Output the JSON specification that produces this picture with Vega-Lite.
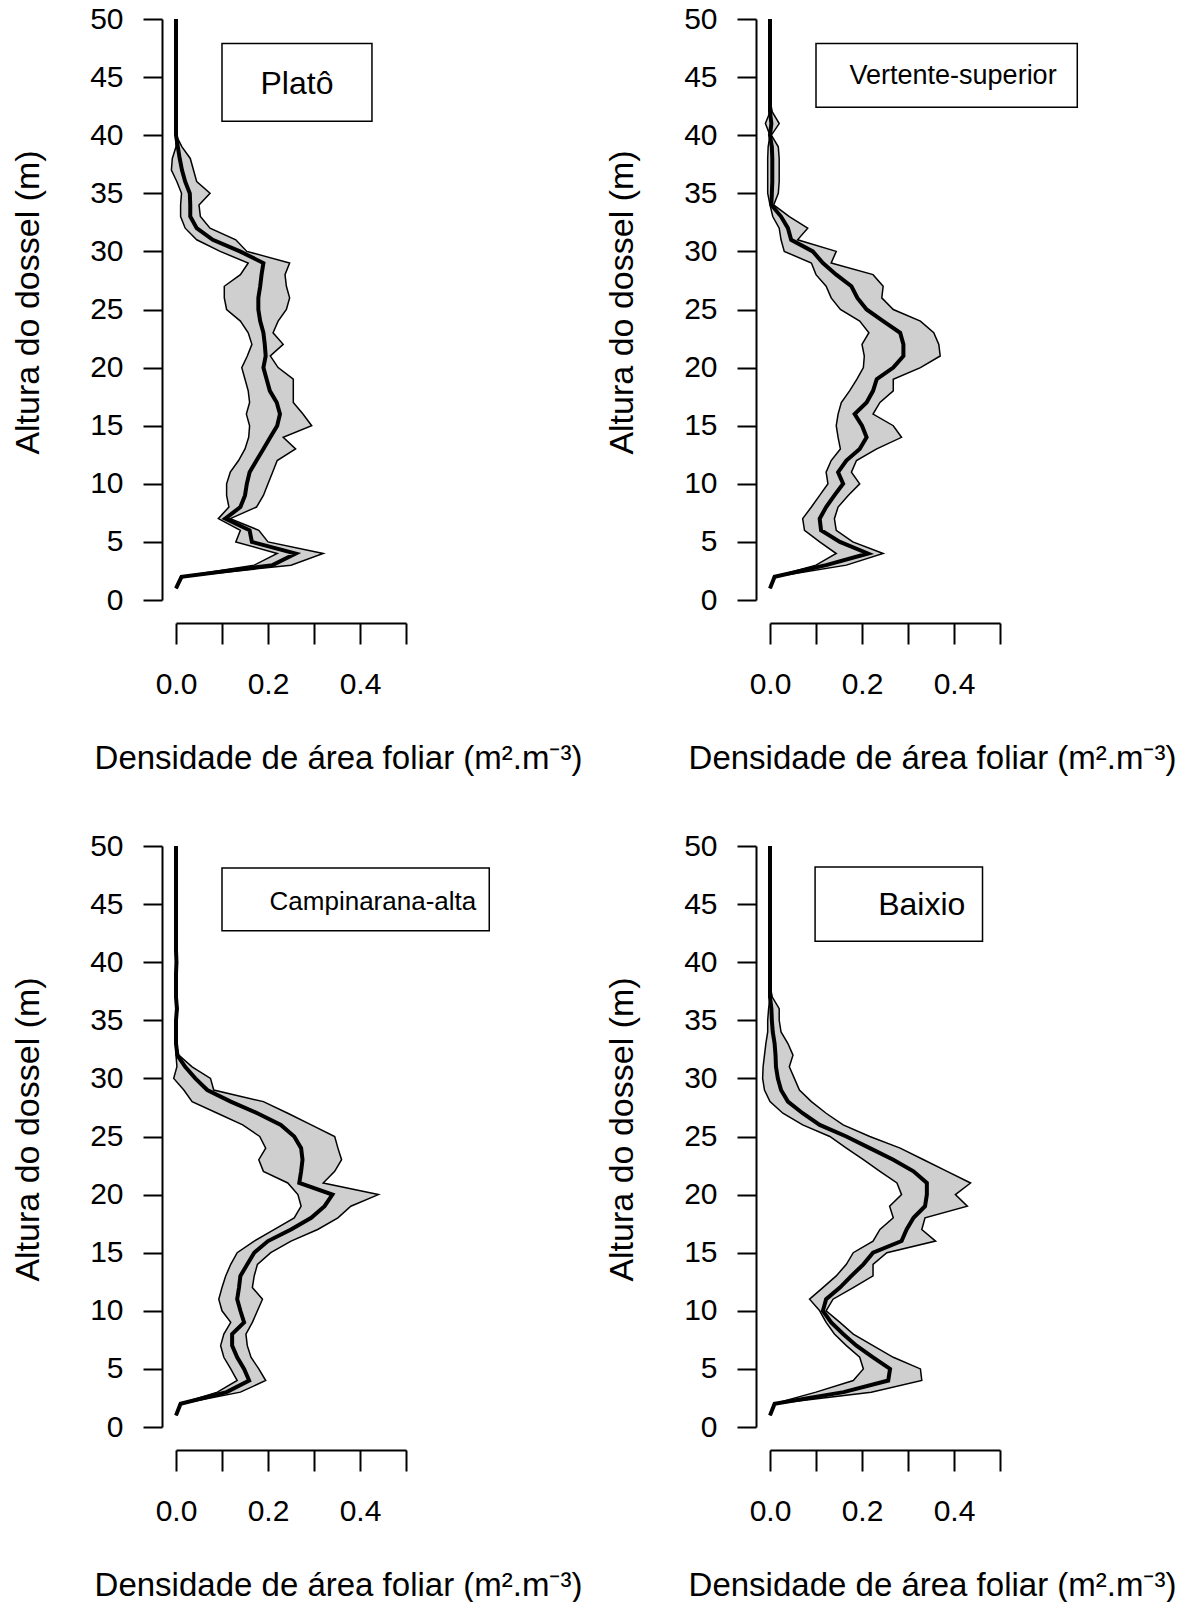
{
  "$schema": "https://vega.github.io/schema/vega-lite/v6.json",
  "background": "white",
  "padding": {"left": 11, "top": 4, "right": 5, "bottom": 0},
  "config": {
    "font": "Liberation Sans",
    "view": {"stroke": null},
    "axis": {
      "grid": false,
      "domainColor": "black",
      "domainWidth": 2,
      "tickColor": "black",
      "tickWidth": 2,
      "labelFont": "Liberation Sans",
      "labelFontSize": 30,
      "labelColor": "black",
      "titleFont": "Liberation Sans",
      "titleFontWeight": "normal",
      "titleColor": "black"
    },
    "axisX": {"tickSize": 21, "titleFontSize": 33},
    "axisY": {"tickSize": 19, "titleFontSize": 34}
  },
  "datasets": {
    "lad": [
      {"site":"Platô","h":1,"lo":0,"mean":0,"hi":0},
      {"site":"Platô","h":2,"lo":0.01,"mean":0.012,"hi":0.015},
      {"site":"Platô","h":3,"lo":0.17,"mean":0.21,"hi":0.25},
      {"site":"Platô","h":4,"lo":0.22,"mean":0.26,"hi":0.32},
      {"site":"Platô","h":5,"lo":0.13,"mean":0.165,"hi":0.2},
      {"site":"Platô","h":6,"lo":0.14,"mean":0.16,"hi":0.18},
      {"site":"Platô","h":7,"lo":0.092,"mean":0.107,"hi":0.118},
      {"site":"Platô","h":8,"lo":0.115,"mean":0.14,"hi":0.175},
      {"site":"Platô","h":9,"lo":0.11,"mean":0.15,"hi":0.19},
      {"site":"Platô","h":10,"lo":0.11,"mean":0.154,"hi":0.2},
      {"site":"Platô","h":11,"lo":0.118,"mean":0.16,"hi":0.21},
      {"site":"Platô","h":12,"lo":0.136,"mean":0.175,"hi":0.22},
      {"site":"Platô","h":13,"lo":0.15,"mean":0.19,"hi":0.26},
      {"site":"Platô","h":14,"lo":0.158,"mean":0.205,"hi":0.233},
      {"site":"Platô","h":15,"lo":0.16,"mean":0.22,"hi":0.295},
      {"site":"Platô","h":16,"lo":0.153,"mean":0.226,"hi":0.276},
      {"site":"Platô","h":17,"lo":0.16,"mean":0.219,"hi":0.255},
      {"site":"Platô","h":18,"lo":0.157,"mean":0.204,"hi":0.255},
      {"site":"Platô","h":19,"lo":0.15,"mean":0.197,"hi":0.255},
      {"site":"Platô","h":20,"lo":0.143,"mean":0.19,"hi":0.222},
      {"site":"Platô","h":21,"lo":0.155,"mean":0.195,"hi":0.205},
      {"site":"Platô","h":22,"lo":0.165,"mean":0.193,"hi":0.233},
      {"site":"Platô","h":23,"lo":0.157,"mean":0.19,"hi":0.211},
      {"site":"Platô","h":24,"lo":0.14,"mean":0.183,"hi":0.222},
      {"site":"Platô","h":25,"lo":0.11,"mean":0.179,"hi":0.24},
      {"site":"Platô","h":26,"lo":0.105,"mean":0.179,"hi":0.247},
      {"site":"Platô","h":27,"lo":0.105,"mean":0.183,"hi":0.24},
      {"site":"Platô","h":28,"lo":0.14,"mean":0.186,"hi":0.237},
      {"site":"Platô","h":29,"lo":0.157,"mean":0.19,"hi":0.247},
      {"site":"Platô","h":30,"lo":0.096,"mean":0.139,"hi":0.154},
      {"site":"Platô","h":31,"lo":0.045,"mean":0.08,"hi":0.13},
      {"site":"Platô","h":32,"lo":0.02,"mean":0.045,"hi":0.074},
      {"site":"Platô","h":33,"lo":0.01,"mean":0.031,"hi":0.053},
      {"site":"Platô","h":34,"lo":0.01,"mean":0.031,"hi":0.05},
      {"site":"Platô","h":35,"lo":0.012,"mean":0.03,"hi":0.074},
      {"site":"Platô","h":36,"lo":0.002,"mean":0.02,"hi":0.045},
      {"site":"Platô","h":37,"lo":-0.01,"mean":0.013,"hi":0.038},
      {"site":"Platô","h":38,"lo":-0.008,"mean":0.008,"hi":0.031},
      {"site":"Platô","h":39,"lo":0,"mean":0.004,"hi":0.013},
      {"site":"Platô","h":40,"lo":0,"mean":0,"hi":0},
      {"site":"Platô","h":41,"lo":0,"mean":0,"hi":0},
      {"site":"Platô","h":42,"lo":0,"mean":0,"hi":0},
      {"site":"Platô","h":43,"lo":0,"mean":0,"hi":0},
      {"site":"Platô","h":44,"lo":0,"mean":0,"hi":0},
      {"site":"Platô","h":45,"lo":0,"mean":0,"hi":0},
      {"site":"Platô","h":46,"lo":0,"mean":0,"hi":0},
      {"site":"Platô","h":47,"lo":0,"mean":0,"hi":0},
      {"site":"Platô","h":48,"lo":0,"mean":0,"hi":0},
      {"site":"Platô","h":49,"lo":0,"mean":0,"hi":0},
      {"site":"Platô","h":50,"lo":0,"mean":0,"hi":0},

      {"site":"Vertente-superior","h":1,"lo":0,"mean":0,"hi":0},
      {"site":"Vertente-superior","h":2,"lo":0.008,"mean":0.01,"hi":0.012},
      {"site":"Vertente-superior","h":3,"lo":0.1,"mean":0.122,"hi":0.166},
      {"site":"Vertente-superior","h":4,"lo":0.144,"mean":0.213,"hi":0.246},
      {"site":"Vertente-superior","h":5,"lo":0.108,"mean":0.152,"hi":0.18},
      {"site":"Vertente-superior","h":6,"lo":0.075,"mean":0.111,"hi":0.144},
      {"site":"Vertente-superior","h":7,"lo":0.071,"mean":0.108,"hi":0.14},
      {"site":"Vertente-superior","h":8,"lo":0.09,"mean":0.122,"hi":0.148},
      {"site":"Vertente-superior","h":9,"lo":0.108,"mean":0.14,"hi":0.17},
      {"site":"Vertente-superior","h":10,"lo":0.126,"mean":0.159,"hi":0.195},
      {"site":"Vertente-superior","h":11,"lo":0.122,"mean":0.148,"hi":0.177},
      {"site":"Vertente-superior","h":12,"lo":0.133,"mean":0.166,"hi":0.188},
      {"site":"Vertente-superior","h":13,"lo":0.153,"mean":0.195,"hi":0.232},
      {"site":"Vertente-superior","h":14,"lo":0.148,"mean":0.21,"hi":0.286},
      {"site":"Vertente-superior","h":15,"lo":0.144,"mean":0.2,"hi":0.268},
      {"site":"Vertente-superior","h":16,"lo":0.148,"mean":0.184,"hi":0.224},
      {"site":"Vertente-superior","h":17,"lo":0.155,"mean":0.21,"hi":0.239},
      {"site":"Vertente-superior","h":18,"lo":0.173,"mean":0.224,"hi":0.268},
      {"site":"Vertente-superior","h":19,"lo":0.189,"mean":0.232,"hi":0.268},
      {"site":"Vertente-superior","h":20,"lo":0.203,"mean":0.268,"hi":0.327},
      {"site":"Vertente-superior","h":21,"lo":0.205,"mean":0.29,"hi":0.37},
      {"site":"Vertente-superior","h":22,"lo":0.2,"mean":0.29,"hi":0.367},
      {"site":"Vertente-superior","h":23,"lo":0.215,"mean":0.283,"hi":0.356},
      {"site":"Vertente-superior","h":24,"lo":0.195,"mean":0.246,"hi":0.327},
      {"site":"Vertente-superior","h":25,"lo":0.153,"mean":0.21,"hi":0.268},
      {"site":"Vertente-superior","h":26,"lo":0.133,"mean":0.19,"hi":0.243},
      {"site":"Vertente-superior","h":27,"lo":0.122,"mean":0.177,"hi":0.246},
      {"site":"Vertente-superior","h":28,"lo":0.1,"mean":0.144,"hi":0.224},
      {"site":"Vertente-superior","h":29,"lo":0.09,"mean":0.115,"hi":0.133},
      {"site":"Vertente-superior","h":30,"lo":0.031,"mean":0.093,"hi":0.144},
      {"site":"Vertente-superior","h":31,"lo":0.024,"mean":0.046,"hi":0.06},
      {"site":"Vertente-superior","h":32,"lo":0.02,"mean":0.039,"hi":0.082},
      {"site":"Vertente-superior","h":33,"lo":0.006,"mean":0.024,"hi":0.042},
      {"site":"Vertente-superior","h":34,"lo":0,"mean":0.003,"hi":0.008},
      {"site":"Vertente-superior","h":35,"lo":-0.005,"mean":0.004,"hi":0.018},
      {"site":"Vertente-superior","h":36,"lo":-0.005,"mean":0.005,"hi":0.02},
      {"site":"Vertente-superior","h":37,"lo":-0.005,"mean":0.005,"hi":0.02},
      {"site":"Vertente-superior","h":38,"lo":-0.005,"mean":0.005,"hi":0.02},
      {"site":"Vertente-superior","h":39,"lo":-0.004,"mean":0.004,"hi":0.018},
      {"site":"Vertente-superior","h":40,"lo":0,"mean":0,"hi":0.003},
      {"site":"Vertente-superior","h":41,"lo":-0.01,"mean":0.003,"hi":0.02},
      {"site":"Vertente-superior","h":42,"lo":0,"mean":0,"hi":0.005},
      {"site":"Vertente-superior","h":43,"lo":0,"mean":0,"hi":0},
      {"site":"Vertente-superior","h":44,"lo":0,"mean":0,"hi":0},
      {"site":"Vertente-superior","h":45,"lo":0,"mean":0,"hi":0},
      {"site":"Vertente-superior","h":46,"lo":0,"mean":0,"hi":0},
      {"site":"Vertente-superior","h":47,"lo":0,"mean":0,"hi":0},
      {"site":"Vertente-superior","h":48,"lo":0,"mean":0,"hi":0},
      {"site":"Vertente-superior","h":49,"lo":0,"mean":0,"hi":0},
      {"site":"Vertente-superior","h":50,"lo":0,"mean":0,"hi":0},

      {"site":"Campinarana-alta","h":1,"lo":0,"mean":0,"hi":0},
      {"site":"Campinarana-alta","h":2,"lo":0.008,"mean":0.01,"hi":0.012},
      {"site":"Campinarana-alta","h":3,"lo":0.09,"mean":0.11,"hi":0.14},
      {"site":"Campinarana-alta","h":4,"lo":0.133,"mean":0.159,"hi":0.195},
      {"site":"Campinarana-alta","h":5,"lo":0.119,"mean":0.148,"hi":0.18},
      {"site":"Campinarana-alta","h":6,"lo":0.104,"mean":0.133,"hi":0.163},
      {"site":"Campinarana-alta","h":7,"lo":0.097,"mean":0.122,"hi":0.155},
      {"site":"Campinarana-alta","h":8,"lo":0.104,"mean":0.122,"hi":0.152},
      {"site":"Campinarana-alta","h":9,"lo":0.119,"mean":0.148,"hi":0.166},
      {"site":"Campinarana-alta","h":10,"lo":0.1,"mean":0.14,"hi":0.177},
      {"site":"Campinarana-alta","h":11,"lo":0.093,"mean":0.133,"hi":0.188},
      {"site":"Campinarana-alta","h":12,"lo":0.1,"mean":0.137,"hi":0.166},
      {"site":"Campinarana-alta","h":13,"lo":0.108,"mean":0.14,"hi":0.17},
      {"site":"Campinarana-alta","h":14,"lo":0.119,"mean":0.155,"hi":0.177},
      {"site":"Campinarana-alta","h":15,"lo":0.133,"mean":0.17,"hi":0.206},
      {"site":"Campinarana-alta","h":16,"lo":0.17,"mean":0.2,"hi":0.25},
      {"site":"Campinarana-alta","h":17,"lo":0.214,"mean":0.25,"hi":0.308},
      {"site":"Campinarana-alta","h":18,"lo":0.257,"mean":0.294,"hi":0.352},
      {"site":"Campinarana-alta","h":19,"lo":0.272,"mean":0.323,"hi":0.38},
      {"site":"Campinarana-alta","h":20,"lo":0.265,"mean":0.34,"hi":0.44},
      {"site":"Campinarana-alta","h":21,"lo":0.243,"mean":0.268,"hi":0.32},
      {"site":"Campinarana-alta","h":22,"lo":0.19,"mean":0.272,"hi":0.345},
      {"site":"Campinarana-alta","h":23,"lo":0.18,"mean":0.275,"hi":0.36},
      {"site":"Campinarana-alta","h":24,"lo":0.195,"mean":0.272,"hi":0.352},
      {"site":"Campinarana-alta","h":25,"lo":0.182,"mean":0.257,"hi":0.345},
      {"site":"Campinarana-alta","h":26,"lo":0.145,"mean":0.228,"hi":0.294},
      {"site":"Campinarana-alta","h":27,"lo":0.09,"mean":0.177,"hi":0.243},
      {"site":"Campinarana-alta","h":28,"lo":0.035,"mean":0.119,"hi":0.19},
      {"site":"Campinarana-alta","h":29,"lo":0.017,"mean":0.068,"hi":0.082},
      {"site":"Campinarana-alta","h":30,"lo":-0.005,"mean":0.042,"hi":0.075},
      {"site":"Campinarana-alta","h":31,"lo":0.002,"mean":0.02,"hi":0.035},
      {"site":"Campinarana-alta","h":32,"lo":0,"mean":0.003,"hi":0.006},
      {"site":"Campinarana-alta","h":33,"lo":0,"mean":0,"hi":0},
      {"site":"Campinarana-alta","h":34,"lo":0,"mean":0,"hi":0},
      {"site":"Campinarana-alta","h":35,"lo":0,"mean":0,"hi":0},
      {"site":"Campinarana-alta","h":36,"lo":0,"mean":0.002,"hi":0.004},
      {"site":"Campinarana-alta","h":37,"lo":0,"mean":0,"hi":0},
      {"site":"Campinarana-alta","h":38,"lo":0,"mean":0,"hi":0},
      {"site":"Campinarana-alta","h":39,"lo":0,"mean":0,"hi":0},
      {"site":"Campinarana-alta","h":40,"lo":0,"mean":0.001,"hi":0.003},
      {"site":"Campinarana-alta","h":41,"lo":0,"mean":0,"hi":0},
      {"site":"Campinarana-alta","h":42,"lo":0,"mean":0,"hi":0},
      {"site":"Campinarana-alta","h":43,"lo":0,"mean":0,"hi":0},
      {"site":"Campinarana-alta","h":44,"lo":0,"mean":0,"hi":0},
      {"site":"Campinarana-alta","h":45,"lo":0,"mean":0,"hi":0},
      {"site":"Campinarana-alta","h":46,"lo":0,"mean":0,"hi":0},
      {"site":"Campinarana-alta","h":47,"lo":0,"mean":0,"hi":0},
      {"site":"Campinarana-alta","h":48,"lo":0,"mean":0,"hi":0},
      {"site":"Campinarana-alta","h":49,"lo":0,"mean":0,"hi":0},
      {"site":"Campinarana-alta","h":50,"lo":0,"mean":0,"hi":0},

      {"site":"Baixio","h":1,"lo":0,"mean":0,"hi":0},
      {"site":"Baixio","h":2,"lo":0.008,"mean":0.01,"hi":0.012},
      {"site":"Baixio","h":3,"lo":0.1,"mean":0.16,"hi":0.22},
      {"site":"Baixio","h":4,"lo":0.181,"mean":0.257,"hi":0.33},
      {"site":"Baixio","h":5,"lo":0.203,"mean":0.261,"hi":0.327},
      {"site":"Baixio","h":6,"lo":0.195,"mean":0.224,"hi":0.268},
      {"site":"Baixio","h":7,"lo":0.166,"mean":0.188,"hi":0.224},
      {"site":"Baixio","h":8,"lo":0.14,"mean":0.159,"hi":0.181},
      {"site":"Baixio","h":9,"lo":0.122,"mean":0.133,"hi":0.152},
      {"site":"Baixio","h":10,"lo":0.108,"mean":0.115,"hi":0.122},
      {"site":"Baixio","h":11,"lo":0.086,"mean":0.122,"hi":0.137},
      {"site":"Baixio","h":12,"lo":0.115,"mean":0.152,"hi":0.181},
      {"site":"Baixio","h":13,"lo":0.144,"mean":0.177,"hi":0.224},
      {"site":"Baixio","h":14,"lo":0.166,"mean":0.203,"hi":0.224},
      {"site":"Baixio","h":15,"lo":0.181,"mean":0.224,"hi":0.254},
      {"site":"Baixio","h":16,"lo":0.224,"mean":0.286,"hi":0.36},
      {"site":"Baixio","h":17,"lo":0.239,"mean":0.297,"hi":0.33},
      {"site":"Baixio","h":18,"lo":0.268,"mean":0.312,"hi":0.337},
      {"site":"Baixio","h":19,"lo":0.26,"mean":0.337,"hi":0.429},
      {"site":"Baixio","h":20,"lo":0.286,"mean":0.341,"hi":0.403},
      {"site":"Baixio","h":21,"lo":0.276,"mean":0.341,"hi":0.436},
      {"site":"Baixio","h":22,"lo":0.239,"mean":0.312,"hi":0.385},
      {"site":"Baixio","h":23,"lo":0.203,"mean":0.268,"hi":0.334},
      {"site":"Baixio","h":24,"lo":0.166,"mean":0.217,"hi":0.283},
      {"site":"Baixio","h":25,"lo":0.13,"mean":0.166,"hi":0.217},
      {"site":"Baixio","h":26,"lo":0.071,"mean":0.108,"hi":0.159},
      {"site":"Baixio","h":27,"lo":0.028,"mean":0.071,"hi":0.122},
      {"site":"Baixio","h":28,"lo":0,"mean":0.039,"hi":0.09},
      {"site":"Baixio","h":29,"lo":-0.012,"mean":0.024,"hi":0.064},
      {"site":"Baixio","h":30,"lo":-0.016,"mean":0.017,"hi":0.053},
      {"site":"Baixio","h":31,"lo":-0.015,"mean":0.013,"hi":0.042},
      {"site":"Baixio","h":32,"lo":-0.012,"mean":0.012,"hi":0.05},
      {"site":"Baixio","h":33,"lo":-0.009,"mean":0.01,"hi":0.039},
      {"site":"Baixio","h":34,"lo":-0.005,"mean":0.006,"hi":0.024},
      {"site":"Baixio","h":35,"lo":-0.005,"mean":0.004,"hi":0.02},
      {"site":"Baixio","h":36,"lo":-0.003,"mean":0.003,"hi":0.02},
      {"site":"Baixio","h":37,"lo":0,"mean":0,"hi":0.005},
      {"site":"Baixio","h":38,"lo":0,"mean":0,"hi":0},
      {"site":"Baixio","h":39,"lo":0,"mean":0,"hi":0},
      {"site":"Baixio","h":40,"lo":0,"mean":0,"hi":0},
      {"site":"Baixio","h":41,"lo":0,"mean":0,"hi":0},
      {"site":"Baixio","h":42,"lo":0,"mean":0,"hi":0},
      {"site":"Baixio","h":43,"lo":0,"mean":0,"hi":0},
      {"site":"Baixio","h":44,"lo":0,"mean":0,"hi":0},
      {"site":"Baixio","h":45,"lo":0,"mean":0,"hi":0},
      {"site":"Baixio","h":46,"lo":0,"mean":0,"hi":0},
      {"site":"Baixio","h":47,"lo":0,"mean":0,"hi":0},
      {"site":"Baixio","h":48,"lo":0,"mean":0,"hi":0},
      {"site":"Baixio","h":49,"lo":0,"mean":0,"hi":0},
      {"site":"Baixio","h":50,"lo":0,"mean":0,"hi":0}
    ]
  },
  "columns": 2,
  "bounds": "flush",
  "spacing": {"row": 246, "column": 364},
  "concat": [
    {
      "width": 230, "height": 581,
      "data": {"name": "lad"},
      "encoding": {
        "y": {"field": "h", "type": "quantitative", "scale": {"domain": [0, 50], "nice": false, "zero": false},
          "axis": {"values": [0,5,10,15,20,25,30,35,40,45,50], "format": "d", "offset": 14, "labelPadding": 20, "title": "Altura do dossel (m)", "titlePadding": 44, "titleY": 283}}
      },
      "layer": [
        {"transform": [{"filter": "datum.site === 'Platô'"}],
         "mark": {"type": "area", "orient": "horizontal", "fill": "#cfcfcf", "stroke": "black", "strokeWidth": 1.5},
         "encoding": {
           "x": {"field": "lo", "type": "quantitative", "scale": {"domain": [0, 0.5], "nice": false, "zero": false},
             "axis": {"values": [0,0.1,0.2,0.3,0.4,0.5], "labelExpr": "round(datum.value*10) % 2 === 0 ? format(datum.value, '.1f') : ''", "labelFlush": false, "offset": 23, "labelPadding": 25, "title": "Densidade de área foliar (m².m⁻³)", "titlePadding": 43, "titleX": 162}},
           "x2": {"field": "hi"}}},
        {"transform": [{"filter": "datum.site === 'Platô'"}],
         "mark": {"type": "line", "color": "black", "strokeWidth": 4},
         "encoding": {"x": {"field": "mean", "type": "quantitative"}, "order": {"field": "h", "type": "quantitative"}}},
        {"transform": [{"filter": "datum.site === 'Platô' && datum.h === 50"}],
         "mark": {"type": "rect", "fill": "white", "stroke": "black", "strokeWidth": 1.5},
         "encoding": {"x": {"datum": 0.1, "type": "quantitative"}, "x2": {"datum": 0.426}, "y": {"datum": 47.9, "type": "quantitative"}, "y2": {"datum": 41.2}}},
        {"transform": [{"filter": "datum.site === 'Platô' && datum.h === 50"}],
         "mark": {"type": "text", "fontSize": 32, "font": "Liberation Sans", "color": "black", "align": "center", "baseline": "middle"},
         "encoding": {"x": {"datum": 0.263, "type": "quantitative"}, "y": {"datum": 44.4, "type": "quantitative"}, "text": {"value": "Platô"}}}
      ]
    },
    {
      "width": 230, "height": 581,
      "data": {"name": "lad"},
      "encoding": {
        "y": {"field": "h", "type": "quantitative", "scale": {"domain": [0, 50], "nice": false, "zero": false},
          "axis": {"values": [0,5,10,15,20,25,30,35,40,45,50], "format": "d", "offset": 14, "labelPadding": 20, "title": "Altura do dossel (m)", "titlePadding": 44, "titleY": 283}}
      },
      "layer": [
        {"transform": [{"filter": "datum.site === 'Vertente-superior'"}],
         "mark": {"type": "area", "orient": "horizontal", "fill": "#cfcfcf", "stroke": "black", "strokeWidth": 1.5},
         "encoding": {
           "x": {"field": "lo", "type": "quantitative", "scale": {"domain": [0, 0.5], "nice": false, "zero": false},
             "axis": {"values": [0,0.1,0.2,0.3,0.4,0.5], "labelExpr": "round(datum.value*10) % 2 === 0 ? format(datum.value, '.1f') : ''", "labelFlush": false, "offset": 23, "labelPadding": 25, "title": "Densidade de área foliar (m².m⁻³)", "titlePadding": 43, "titleX": 162}},
           "x2": {"field": "hi"}}},
        {"transform": [{"filter": "datum.site === 'Vertente-superior'"}],
         "mark": {"type": "line", "color": "black", "strokeWidth": 4},
         "encoding": {"x": {"field": "mean", "type": "quantitative"}, "order": {"field": "h", "type": "quantitative"}}},
        {"transform": [{"filter": "datum.site === 'Vertente-superior' && datum.h === 50"}],
         "mark": {"type": "rect", "fill": "white", "stroke": "black", "strokeWidth": 1.5},
         "encoding": {"x": {"datum": 0.1, "type": "quantitative"}, "x2": {"datum": 0.668}, "y": {"datum": 47.9, "type": "quantitative"}, "y2": {"datum": 42.4}}},
        {"transform": [{"filter": "datum.site === 'Vertente-superior' && datum.h === 50"}],
         "mark": {"type": "text", "fontSize": 27, "font": "Liberation Sans", "color": "black", "align": "center", "baseline": "middle"},
         "encoding": {"x": {"datum": 0.398, "type": "quantitative"}, "y": {"datum": 45.1, "type": "quantitative"}, "text": {"value": "Vertente-superior"}}}
      ]
    },
    {
      "width": 230, "height": 581,
      "data": {"name": "lad"},
      "encoding": {
        "y": {"field": "h", "type": "quantitative", "scale": {"domain": [0, 50], "nice": false, "zero": false},
          "axis": {"values": [0,5,10,15,20,25,30,35,40,45,50], "format": "d", "offset": 14, "labelPadding": 20, "title": "Altura do dossel (m)", "titlePadding": 44, "titleY": 283}}
      },
      "layer": [
        {"transform": [{"filter": "datum.site === 'Campinarana-alta'"}],
         "mark": {"type": "area", "orient": "horizontal", "fill": "#cfcfcf", "stroke": "black", "strokeWidth": 1.5},
         "encoding": {
           "x": {"field": "lo", "type": "quantitative", "scale": {"domain": [0, 0.5], "nice": false, "zero": false},
             "axis": {"values": [0,0.1,0.2,0.3,0.4,0.5], "labelExpr": "round(datum.value*10) % 2 === 0 ? format(datum.value, '.1f') : ''", "labelFlush": false, "offset": 23, "labelPadding": 25, "title": "Densidade de área foliar (m².m⁻³)", "titlePadding": 43, "titleX": 162}},
           "x2": {"field": "hi"}}},
        {"transform": [{"filter": "datum.site === 'Campinarana-alta'"}],
         "mark": {"type": "line", "color": "black", "strokeWidth": 4},
         "encoding": {"x": {"field": "mean", "type": "quantitative"}, "order": {"field": "h", "type": "quantitative"}}},
        {"transform": [{"filter": "datum.site === 'Campinarana-alta' && datum.h === 50"}],
         "mark": {"type": "rect", "fill": "white", "stroke": "black", "strokeWidth": 1.5},
         "encoding": {"x": {"datum": 0.1, "type": "quantitative"}, "x2": {"datum": 0.681}, "y": {"datum": 48.1, "type": "quantitative"}, "y2": {"datum": 42.7}}},
        {"transform": [{"filter": "datum.site === 'Campinarana-alta' && datum.h === 50"}],
         "mark": {"type": "text", "fontSize": 26, "font": "Liberation Sans", "color": "black", "align": "center", "baseline": "middle"},
         "encoding": {"x": {"datum": 0.428, "type": "quantitative"}, "y": {"datum": 45.2, "type": "quantitative"}, "text": {"value": "Campinarana-alta"}}}
      ]
    },
    {
      "width": 230, "height": 581,
      "data": {"name": "lad"},
      "encoding": {
        "y": {"field": "h", "type": "quantitative", "scale": {"domain": [0, 50], "nice": false, "zero": false},
          "axis": {"values": [0,5,10,15,20,25,30,35,40,45,50], "format": "d", "offset": 14, "labelPadding": 20, "title": "Altura do dossel (m)", "titlePadding": 44, "titleY": 283}}
      },
      "layer": [
        {"transform": [{"filter": "datum.site === 'Baixio'"}],
         "mark": {"type": "area", "orient": "horizontal", "fill": "#cfcfcf", "stroke": "black", "strokeWidth": 1.5},
         "encoding": {
           "x": {"field": "lo", "type": "quantitative", "scale": {"domain": [0, 0.5], "nice": false, "zero": false},
             "axis": {"values": [0,0.1,0.2,0.3,0.4,0.5], "labelExpr": "round(datum.value*10) % 2 === 0 ? format(datum.value, '.1f') : ''", "labelFlush": false, "offset": 23, "labelPadding": 25, "title": "Densidade de área foliar (m².m⁻³)", "titlePadding": 43, "titleX": 162}},
           "x2": {"field": "hi"}}},
        {"transform": [{"filter": "datum.site === 'Baixio'"}],
         "mark": {"type": "line", "color": "black", "strokeWidth": 4},
         "encoding": {"x": {"field": "mean", "type": "quantitative"}, "order": {"field": "h", "type": "quantitative"}}},
        {"transform": [{"filter": "datum.site === 'Baixio' && datum.h === 50"}],
         "mark": {"type": "rect", "fill": "white", "stroke": "black", "strokeWidth": 1.5},
         "encoding": {"x": {"datum": 0.098, "type": "quantitative"}, "x2": {"datum": 0.462}, "y": {"datum": 48.2, "type": "quantitative"}, "y2": {"datum": 41.8}}},
        {"transform": [{"filter": "datum.site === 'Baixio' && datum.h === 50"}],
         "mark": {"type": "text", "fontSize": 32, "font": "Liberation Sans", "color": "black", "align": "center", "baseline": "middle"},
         "encoding": {"x": {"datum": 0.33, "type": "quantitative"}, "y": {"datum": 44.9, "type": "quantitative"}, "text": {"value": "Baixio"}}}
      ]
    }
  ]
}
